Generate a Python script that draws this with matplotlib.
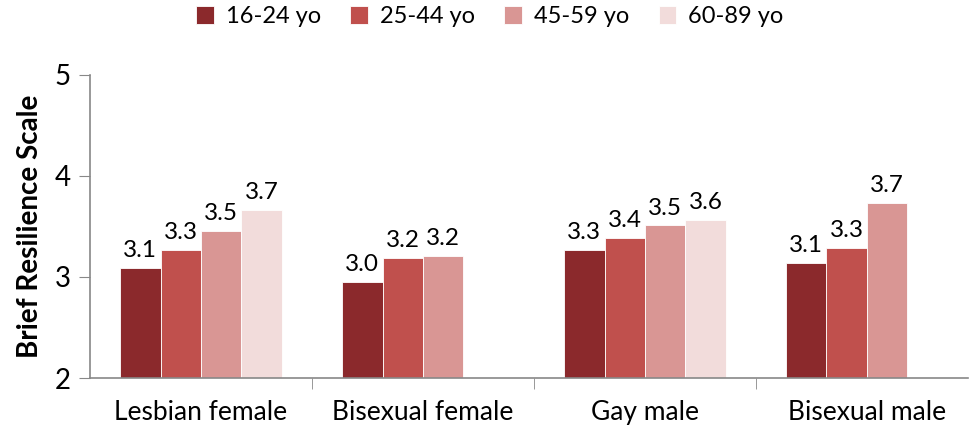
import matplotlib
matplotlib.use("Agg")
import matplotlib.pyplot as plt
import numpy as np

plt.rcParams['font.family'] = ['Lato', 'DejaVu Sans']

groups = ["Lesbian female", "Bisexual female", "Gay male", "Bisexual male"]
ages = ["16-24 yo", "25-44 yo", "45-59 yo", "60-89 yo"]
# one list per age band, NaN where there is no bar
age_16_24 = [3.09, 2.95, 3.27, 3.14]
age_25_44 = [3.27, 3.19, 3.39, 3.29]
age_45_59 = [3.46, 3.21, 3.51, 3.73]
age_60_89 = [3.66, np.nan, 3.56, np.nan]
series = [age_16_24, age_25_44, age_45_59, age_60_89]
colors = ["#8B292C", "#C0504D", "#D99694", "#F2DCDB"]

fig = plt.figure(figsize=(9.7, 4.33), dpi=100)
ax = fig.add_axes([0.0928, 0.127, 0.905, 0.700])

x = np.arange(len(groups))
w = 0.182
for i, (vals, col, lab) in enumerate(zip(series, colors, ages)):
    pos = x + (i - 1.5) * w
    ax.bar(pos, vals, w, color=col, label=lab, edgecolor="white", linewidth=0.6)
    for p, v in zip(pos, vals):
        if np.isnan(v):
            continue
        ax.annotate(f"{v:.1f}", (p, v), xytext=(0, 5), textcoords="offset points",
                    ha="center", va="bottom", fontsize=17.5)

ax.set_ylim(2, 5)
ax.set_xlim(-0.5, 3.455)
ax.set_yticks([2, 3, 4, 5])
ax.set_xticks(x)
ax.set_xticklabels(groups, fontsize=19)
ax.set_xticks(np.arange(0.5, 3.5, 1), minor=True)
ax.tick_params(axis="x", which="major", length=0, pad=16)
ax.tick_params(axis="x", which="minor", length=8, color="#888888", direction="out")
ax.tick_params(axis="y", length=8, color="#888888", direction="out", labelsize=20, pad=6)
ax.set_ylabel("Brief Resilience Scale", fontsize=20, fontweight="bold", labelpad=8)

for s in ["top", "right"]:
    ax.spines[s].set_visible(False)
for s in ["left", "bottom"]:
    ax.spines[s].set_color("#888888")
    ax.spines[s].set_linewidth(1.2)

fig.legend(loc="upper center", bbox_to_anchor=(0.505, 1.035), ncol=4, frameon=False,
           fontsize=17, handlelength=0.75, handleheight=0.75, handletextpad=0.5,
           columnspacing=1.25)

fig.savefig("out.png", dpi=100)
